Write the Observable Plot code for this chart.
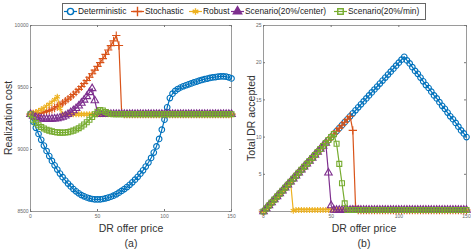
<!DOCTYPE html>
<html><head><meta charset="utf-8">
<script src="https://cdn.jsdelivr.net/npm/d3@7"></script>
<script src="https://cdn.jsdelivr.net/npm/@observablehq/plot@0.6"></script>
<style>
body{margin:0;background:#fff;font-family:"Liberation Sans",Arial,sans-serif;}
#wrap{position:relative;width:471px;height:250px;overflow:hidden;background:#fff;}
.panel{position:absolute;top:0;}
.lab{position:absolute;font-size:10.5px;color:#333;white-space:nowrap;transform:translate(-50%,-50%);line-height:1;}
.rot{transform:translate(-50%,-50%) rotate(-90deg);}
#legend{position:absolute;left:62px;top:3px;width:364px;height:17px;border:1px solid #666;background:#fff;box-sizing:border-box;font-size:8.4px;color:#222;font-family:"Liberation Sans",Arial,sans-serif;}
#legend .it{position:absolute;top:1px;height:13px;line-height:13px;white-space:nowrap;}
#legend svg{position:absolute;top:1px;}
</style></head><body><div id="wrap"></div>
<script>
// ---- data ----
const seriesNames = ["Deterministic","Stochastic","Robust","Scenario(20%/center)","Scenario(20%/min)"];
const price = [0,2,4,6,8,10,12,14,16,18,20,22,24,26,28,30,32,34,36,38,40,42,44,46,48,50,52,54,56,58,60,62,64,66,68,70,72,74,76,78,80,82,84,86,88,90,92,94,96,98,100,102,104,106,108,110,112,114,116,118,120,122,124,126,128,130,132,134,136,138,140,142,144,146,148,150];
const xTicks = [0,50,100,150];
const costTicks = [8500,9000,9500,10000];
const accTicks = [0,5,10,15,20,25];

// (a) Realization cost
const costDet = [9285,9225,9175,9125,9078,9032,8988,8947,8908,8872,
8838,8806,8777,8750,8725,8702,8681,8663,8647,8633,
8622,8613,8606,8601,8598,8597,8598,8601,8606,8612,
8619,8628,8639,8652,8666,8681,8697,8715,8735,8757,
8780,8805,8832,8862,8895,8932,8975,9025,9085,9160,
9240,9340,9415,9450,9472,9488,9500,9510,9518,9526,
9533,9541,9548,9555,9561,9567,9572,9577,9581,9584,
9587,9589,9589,9587,9582,9573];
const costSto = [9285,9286,9289,9291,9295,9300,9307,9315,9324,9335,
9347,9360,9374,9390,9406,9424,9443,9464,9485,9508,
9532,9557,9583,9611,9640,9670,9701,9733,9767,9802,
9838,9876,9919,9839,9300,9285,9285,9285,9285,9285,
9285,9285,9285,9285,9285,9285,9285,9285,9285,9285,
9285,9285,9285,9285,9285,9285,9285,9285,9285,9285,
9285,9285,9285,9285,9285,9285,9285,9285,9285,9285,
9285,9285,9285,9285,9285,9285];
const costRob = [9285,9292,9300,9310,9322,9335,9350,9365,9382,9402,
9425,9330,9285,9285,9285,9285,9285,9285,9285,9285,
9285,9285,9285,9285,9285,9285,9285,9285,9285,9285,
9285,9285,9285,9285,9285,9285,9285,9285,9285,9285,
9285,9285,9285,9285,9285,9285,9285,9285,9285,9285,
9285,9285,9285,9285,9285,9285,9285,9285,9285,9285,
9285,9285,9285,9285,9285,9285,9285,9285,9285,9285,
9285,9285,9285,9285,9285,9285];
const costCen = [9285,9270,9260,9253,9248,9245,9244,9244,9246,9248,
9250,9255,9262,9272,9284,9298,9314,9332,9352,9375,
9400,9428,9460,9492,9395,9300,9285,9285,9285,9285,
9285,9285,9285,9285,9285,9285,9285,9285,9285,9285,
9285,9285,9285,9285,9285,9285,9285,9285,9285,9285,
9285,9285,9285,9285,9285,9285,9285,9285,9285,9285,
9285,9285,9285,9285,9285,9285,9285,9285,9285,9285,
9285,9285,9285,9285,9285,9285];
const costMin = [9285,9240,9215,9196,9181,9170,9160,9152,9146,9141,
9138,9136,9136,9137,9140,9145,9152,9161,9172,9186,
9202,9220,9240,9262,9285,9305,9318,9315,9302,9292,
9287,9285,9285,9285,9285,9285,9285,9285,9285,9285,
9285,9285,9285,9285,9285,9285,9285,9285,9285,9285,
9285,9285,9285,9285,9285,9285,9285,9285,9285,9285,
9285,9285,9285,9285,9285,9285,9285,9285,9285,9285,
9285,9285,9285,9285,9285,9285];

// (b) Total DR accepted
const accDet = [0,0.4,0.8,1.2,1.6,2,2.4,2.8,3.2,3.6,
4,4.4,4.8,5.2,5.6,6,6.4,6.8,7.2,7.6,
8,8.4,8.8,9.2,9.6,10,10.4,10.8,11.2,11.6,
12,12.4,12.8,13.2,13.6,14,14.4,14.8,15.2,15.6,
16,16.4,16.8,17.2,17.6,18,18.4,18.8,19.2,19.6,
20,20.4,20.8,20.3,19.9,19.4,18.9,18.5,18.0,17.5,
17.0,16.6,16.1,15.6,15.2,14.7,14.2,13.8,13.3,12.8,
12.4,11.9,11.4,10.9,10.5,10.0];
const accSto = [0,0.4,0.8,1.2,1.6,2,2.4,2.8,3.2,3.6,
4,4.4,4.8,5.2,5.6,6,6.4,6.8,7.2,7.6,
8,8.4,8.8,9.2,9.6,10,10.4,10.8,11.2,11.6,
12,12.4,12.8,10.9,0.7,0.2,0.2,0.2,0.2,0.2,
0.2,0.2,0.2,0.2,0.2,0.2,0.2,0.2,0.2,0.2,
0.2,0.2,0.2,0.2,0.2,0.2,0.2,0.2,0.2,0.2,
0.2,0.2,0.2,0.2,0.2,0.2,0.2,0.2,0.2,0.2,
0.2,0.2,0.2,0.2,0.2,0.2];
const accRob = [0,0.4,0.8,1.2,1.6,2,2.4,2.8,3.2,3.6,
4,0.1,0.2,0.2,0.2,0.2,0.2,0.2,0.2,0.2,
0.2,0.2,0.2,0.2,0.2,0.2,0.2,0.2,0.2,0.2,
0.2,0.2,0.2,0.2,0.2,0.2,0.2,0.2,0.2,0.2,
0.2,0.2,0.2,0.2,0.2,0.2,0.2,0.2,0.2,0.2,
0.2,0.2,0.2,0.2,0.2,0.2,0.2,0.2,0.2,0.2,
0.2,0.2,0.2,0.2,0.2,0.2,0.2,0.2,0.2,0.2,
0.2,0.2,0.2,0.2,0.2,0.2];
const accCen = [0,0.4,0.8,1.2,1.6,2,2.4,2.8,3.2,3.6,
4,4.4,4.8,5.2,5.6,6,6.4,6.8,7.2,7.6,
8,8.4,8.8,9.2,5.2,0.8,0.2,0.2,0.2,0.2,
0.2,0.2,0.2,0.2,0.2,0.2,0.2,0.2,0.2,0.2,
0.2,0.2,0.2,0.2,0.2,0.2,0.2,0.2,0.2,0.2,
0.2,0.2,0.2,0.2,0.2,0.2,0.2,0.2,0.2,0.2,
0.2,0.2,0.2,0.2,0.2,0.2,0.2,0.2,0.2,0.2,
0.2,0.2,0.2,0.2,0.2,0.2];
const accMin = [0,0.4,0.8,1.2,1.6,2,2.4,2.8,3.2,3.6,
4,4.4,4.8,5.2,5.6,6,6.4,6.8,7.2,7.6,
8,8.4,8.8,9.2,9.6,10,10.4,9.1,6.4,3.8,
1.1,0.2,0.2,0.2,0.2,0.2,0.2,0.2,0.2,0.2,
0.2,0.2,0.2,0.2,0.2,0.2,0.2,0.2,0.2,0.2,
0.2,0.2,0.2,0.2,0.2,0.2,0.2,0.2,0.2,0.2,
0.2,0.2,0.2,0.2,0.2,0.2,0.2,0.2,0.2,0.2,
0.2,0.2,0.2,0.2,0.2,0.2];

// ---- styling ----
const colors = ["#0072BD","#D95319","#EDB120","#7E2F8E","#77AC30"];
const symbols = ["circle","plus","asterisk","triangle","square"];
const FONT = "'Liberation Sans', Arial, sans-serif";
const H = 250, MT = 25, MB = 39;

function rowsOf(vals){ return vals.map((v,i)=>({x: price[i], y: v})); }

function panel(series, yDomain, yTicks, ml, mr, w){
  const pw = w - ml - mr, ph = H - MT - MB;
  const marks = [
    Plot.frame({stroke:"#9a9a9a", strokeWidth:1}),
    Plot.axisX({ticks:xTicks, tickSize:0, tickPadding:3, label:null, tickFormat:d3.format("d"), fill:"#666"}),
    Plot.axisY({ticks:yTicks, tickSize:0, tickPadding:2, label:null, tickFormat:d3.format("d"), fill:"#666"}),
    Plot.tickX(xTicks,{x:d=>d, insetTop: ph-2, stroke:"#777"}),
    Plot.tickX(xTicks,{x:d=>d, insetBottom: ph-2, stroke:"#777"}),
    Plot.tickY(yTicks,{y:d=>d, insetRight: pw-2, stroke:"#777"}),
    Plot.tickY(yTicks,{y:d=>d, insetLeft: pw-2, stroke:"#777"})
  ];
  series.forEach((vals,k)=>{
    const rows = rowsOf(vals);
    marks.push(Plot.line(rows,{x:"x",y:"y",stroke:colors[k],strokeWidth:1.2}));
    marks.push(Plot.dot(rows,{x:"x",y:"y",symbol:()=>symbols[k],stroke:colors[k],fill:"none",r:2.8,strokeWidth:1.1}));
  });
  return Plot.plot({
    width:w, height:H, marginLeft:ml, marginRight:mr, marginTop:MT, marginBottom:MB,
    x:{domain:[0,150]}, y:{domain:yDomain},
    symbol:{type:"identity"},
    style:{fontSize:"5px", fontFamily:FONT, color:"#666", background:"transparent", overflow:"visible"},
    marks
  });
}

const wrap = document.getElementById("wrap");
const left = panel([costDet,costSto,costRob,costCen,costMin],[8500,10000],costTicks,30,5,236);
left.classList.add("panel"); left.style.left = "0px";
const right = panel([accDet,accSto,accRob,accCen,accMin],[0,25],accTicks,27,5,235);
right.classList.add("panel"); right.style.left = "236px";
wrap.appendChild(left); wrap.appendChild(right);

function label(text,x,y,rot){
  const d = document.createElement("div");
  d.className = "lab" + (rot ? " rot" : "");
  d.textContent = text; d.style.left = x+"px"; d.style.top = y+"px";
  wrap.appendChild(d);
}
label("Realization cost",8,118,true);
label("DR offer price",131,228);
label("(a)",131,243);
label("Total DR accepted",251,118,true);
label("DR offer price",364,228);
label("(b)",364,243);

// legend
const lg = document.createElement("div"); lg.id = "legend"; wrap.appendChild(lg);
const mk = [1,68,126,168,271];   // marker x within legend box
seriesNames.forEach((name,k)=>{
  const s = d3.create("svg").attr("width",13).attr("height",13).style("left",mk[k]+"px");
  s.append("line").attr("x1",0).attr("x2",13).attr("y1",6.5).attr("y2",6.5).attr("stroke",colors[k]).attr("stroke-width",1.2);
  const sym = {circle:d3.symbolCircle,plus:d3.symbolPlus,asterisk:d3.symbolAsterisk,triangle:d3.symbolTriangle,square:d3.symbolSquare}[symbols[k]];
  s.append("path").attr("d",d3.symbol(sym, 30)()).attr("transform","translate(6.5,6.5)")
    .attr("fill", k===3 ? colors[k] : (k===0 ? "#fff" : "none")).attr("stroke",colors[k]).attr("stroke-width",1.4);
  lg.appendChild(s.node());
  const t = document.createElement("div"); t.className = "it"; t.textContent = name;
  t.style.left = (mk[k]+14)+"px"; lg.appendChild(t);
});
</script></body></html>
